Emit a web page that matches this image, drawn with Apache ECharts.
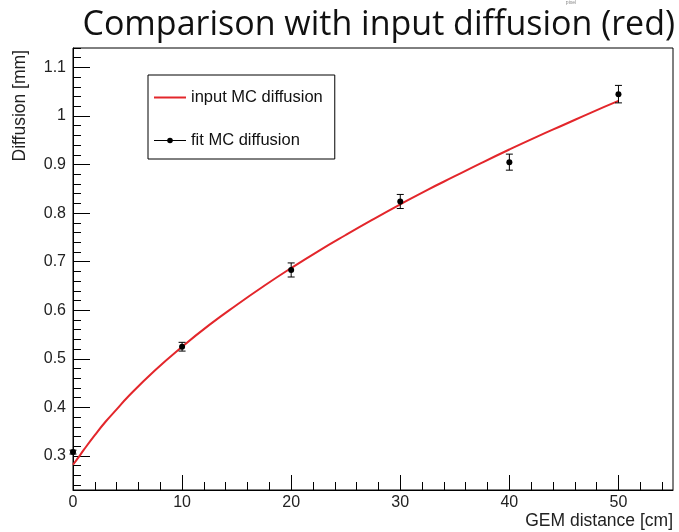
<!DOCTYPE html>
<html>
<head>
<meta charset="utf-8">
<script src="https://cdn.jsdelivr.net/npm/echarts@6/dist/echarts.min.js"></script>
<style>
html,body{margin:0;padding:0;background:#fff;}
#chart{width:679px;height:532px;}
</style>
</head>
<body>
<div id="chart"></div>
<script>
// ---- data ----
const titleText = 'Comparison with input diffusion (red)';
const xAxisTitle = 'GEM distance [cm]';
const yAxisTitle = 'Diffusion [mm]';
const xMajorTicks = [0, 10, 20, 30, 40, 50];
const yMajorTicks = [0.3, 0.4, 0.5, 0.6, 0.7, 0.8, 0.9, 1.0, 1.1];

// input MC diffusion (red curve)
const curveX = [0, 0.5, 1, 2, 3, 4, 5, 7.5, 10, 12.5, 15, 17.5, 20, 22.5, 25, 27.5, 30, 32.5, 35, 37.5, 40, 42.5, 45, 47.5, 50];
const curveY = [0.282, 0.297, 0.313, 0.343, 0.371, 0.396, 0.421, 0.476, 0.525, 0.570, 0.611, 0.650, 0.687, 0.722, 0.755, 0.787, 0.818, 0.848, 0.876, 0.904, 0.931, 0.957, 0.982, 1.007, 1.031];

// fit MC diffusion (points with errors)
const fitX = [0, 10, 20, 30, 40, 50];
const fitY = [0.308, 0.525, 0.683, 0.824, 0.905, 1.045];
const fitErr = [0.004, 0.009, 0.0145, 0.0145, 0.0165, 0.018];

// ---- chart ----
const xMinor = [];
for (let v = 2; v <= 54; v += 2) xMinor.push(v);
const yMinor = [];
for (let k = 12; k <= 57; k++) yMinor.push(+(k * 0.02).toFixed(2));

const axisFont = '"Liberation Sans", Arial, sans-serif';
const chart = echarts.init(document.getElementById('chart'), null, {renderer: 'canvas'});

const baseX = {type: 'value', min: 0, max: 55, position: 'bottom', splitLine: {show: false}};
const baseY = {type: 'value', min: 0.23, max: 1.14, position: 'left', splitLine: {show: false}};

chart.setOption({
  animation: false,
  backgroundColor: '#fff',
  grid: {left: 73, right: 6, top: 48, bottom: 42, show: true, borderColor: '#000', borderWidth: 1, backgroundColor: 'transparent'},
  xAxis: [
    Object.assign({}, baseX, {
      axisLine: {show: true, lineStyle: {color: '#000', width: 1}},
      axisTick: {show: true, inside: true, length: 15, customValues: xMajorTicks, lineStyle: {color: '#000'}},
      axisLabel: {show: true, customValues: xMajorTicks, color: '#222', fontSize: 16, fontFamily: axisFont, margin: 5}
    }),
    Object.assign({}, baseX, {
      axisLine: {show: false},
      axisTick: {show: true, inside: true, length: 8, customValues: xMinor, lineStyle: {color: '#000'}},
      axisLabel: {show: false}
    })
  ],
  yAxis: [
    Object.assign({}, baseY, {
      axisLine: {show: true, lineStyle: {color: '#000', width: 1}},
      axisTick: {show: true, inside: true, length: 17, customValues: yMajorTicks, lineStyle: {color: '#000'}},
      axisLabel: {show: true, customValues: yMajorTicks, color: '#222', fontSize: 16, fontFamily: axisFont, margin: 7,
        formatter: v => String(+v.toFixed(2))}
    }),
    Object.assign({}, baseY, {
      axisLine: {show: false},
      axisTick: {show: true, inside: true, length: 8, customValues: yMinor, lineStyle: {color: '#000'}},
      axisLabel: {show: false}
    })
  ],
  legend: {
    left: 148, top: 75, orient: 'vertical',
    backgroundColor: '#fff', borderColor: '#000', borderWidth: 1,
    padding: [14, 12, 10, 5],
    itemWidth: 32, itemHeight: 7, itemGap: 26,
    textStyle: {color: '#111', fontSize: 16.5, fontFamily: axisFont},
    data: [
      {name: 'input MC diffusion', itemStyle: {opacity: 0}},
      {name: 'fit MC diffusion', lineStyle: {width: 1, color: '#000', opacity: 1}}
    ]
  },
  series: [
    {
      name: 'input MC diffusion', type: 'line', xAxisIndex: 0, yAxisIndex: 0,
      data: curveX.map((x, i) => [x, curveY[i]]),
      symbol: 'none', smooth: true,
      lineStyle: {color: '#e3262b', width: 2}, itemStyle: {color: '#e3262b'}, z: 2
    },
    {
      name: 'error bars', type: 'custom', xAxisIndex: 0, yAxisIndex: 0, clip: false, z: 3,
      data: fitX.map((x, i) => [x, fitY[i], fitErr[i]]),
      renderItem: function (params, api) {
        const x = api.value(0), y = api.value(1), e = api.value(2);
        const top = api.coord([x, y + e]);
        const bot = api.coord([x, y - e]);
        const cap = 3.5;
        const st = {stroke: '#000', lineWidth: 1};
        return {type: 'group', children: [
          {type: 'line', shape: {x1: top[0], y1: top[1], x2: bot[0], y2: bot[1]}, style: st},
          {type: 'line', shape: {x1: top[0] - cap, y1: top[1], x2: top[0] + cap, y2: top[1]}, style: st},
          {type: 'line', shape: {x1: bot[0] - cap, y1: bot[1], x2: bot[0] + cap, y2: bot[1]}, style: st}
        ]};
      }
    },
    {
      name: 'fit MC diffusion', type: 'line', xAxisIndex: 0, yAxisIndex: 0, clip: false,
      data: fitX.map((x, i) => [x, fitY[i]]),
      symbol: 'circle', symbolSize: 6, showSymbol: true,
      lineStyle: {width: 0, color: '#000'}, itemStyle: {color: '#000'}, z: 4
    }
  ],
  graphic: [
    {type: 'text', x: 675, y: 25, style: {text: titleText, fill: '#111', font: '34px "Open Sans", Lato, sans-serif', textAlign: 'right', textVerticalAlign: 'middle'}},
    {type: 'text', x: 571, y: 3, style: {text: 'pixel', fill: '#888', font: '5px ' + axisFont, textAlign: 'center', textVerticalAlign: 'middle'}},
    {type: 'text', x: 673, y: 521, style: {text: xAxisTitle, fill: '#222', font: '17.5px ' + axisFont, textAlign: 'right', textVerticalAlign: 'middle'}},
    {type: 'text', x: 20, y: 50, rotation: Math.PI / 2, style: {text: yAxisTitle, fill: '#222', font: '17.5px ' + axisFont, textAlign: 'right', textVerticalAlign: 'middle'}}
  ]
});
</script>
</body>
</html>
